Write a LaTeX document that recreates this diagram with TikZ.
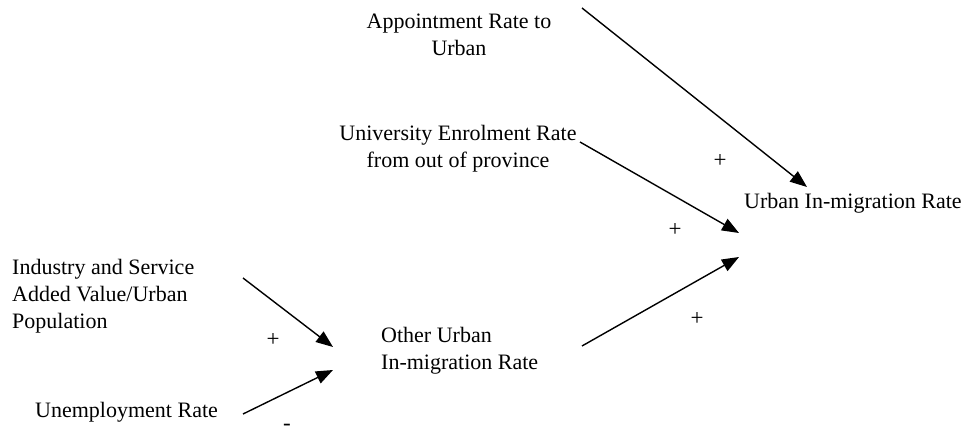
\documentclass[tikz,border=0pt]{standalone}
\usepackage{fontspec}
\setmainfont{Liberation Serif}
\usetikzlibrary{arrows.meta}
\usetikzlibrary{calc}
\usetikzlibrary{positioning}

\begin{document}
\begin{tikzpicture}[x=1pt, y=-1pt,
        lbl/.style={font=\fontsize{22}{27}\selectfont, inner sep=0pt},
        sign/.style={font=\fontsize{23}{27}\selectfont, inner sep=0pt},
        link/.style={-{Triangle[length=17pt, width=13pt]}, line width=1.4pt}]
            \useasboundingbox (0, 0) rectangle (969, 435);
            % variables
            \node[lbl, align=center] (appt) at (459, 35) {Appointment Rate to\\Urban};
            \node[lbl, align=center] (univ) at (458, 149) {University Enrolment Rate\\from out of province};
            \node[lbl, anchor=west] (urban) at (744, 203) {Urban In-migration Rate};
            \node[lbl, align=left, anchor=west] (ind) at (12, 296) {Industry and Service\\Added Value/Urban\\Population};
            \node[lbl, anchor=west] (unemp) at (35, 412) {Unemployment Rate};
            \node[lbl, align=left, anchor=west] (other) at (381, 351) {Other Urban\\In-migration Rate};
            % ends of the links
            \coordinate (apptT) at (582, 8);
            \coordinate (apptH) at (807, 187);
            \coordinate (univT) at (580, 142);
            \coordinate (univH) at (739, 233);
            \coordinate (otherT) at (582, 346);
            \coordinate (otherH) at (739, 257);
            \coordinate (indT) at (243, 278);
            \coordinate (indH) at (333, 347);
            \coordinate (unempT) at (243, 414);
            \coordinate (unempH) at (333, 370);
            \foreach \a in {appt, univ, other, ind, unemp}
            {
                \draw[link] (\a T) -- (\a H);
            }
            % polarities
            \node[sign] (s1) at (720, 161) {+};
            \node[sign] (s2) at (675, 230) {+};
            \node[sign] (s3) at (697, 319) {+};
            \node[sign] (s4) at (273, 340) {+};
            \node[sign] (s5) at (287, 427) {-};
        \end{tikzpicture}
\end{document}
